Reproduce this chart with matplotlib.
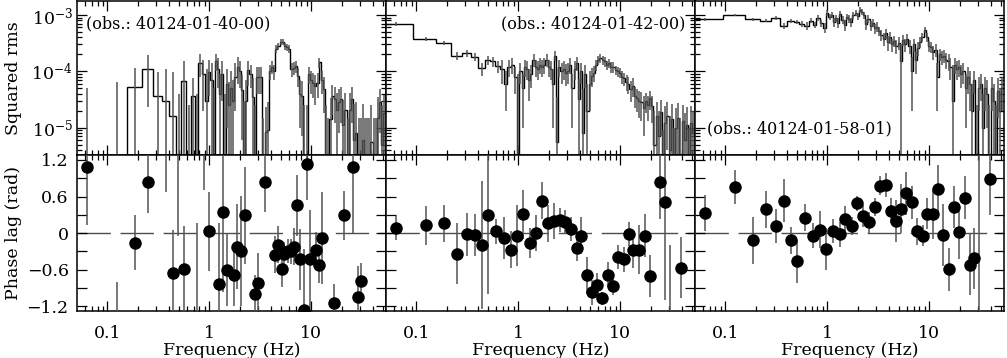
import numpy as np
import matplotlib.pyplot as plt
from matplotlib.ticker import MultipleLocator, FuncFormatter, NullFormatter, LogLocator

plt.rcParams['font.family'] = 'DejaVu Serif'
plt.rcParams['mathtext.fontset'] = 'dejavuserif'
plt.rcParams['font.size'] = 12.5

# POWER SPECTRA (shared frequency grid, Hz; power in units of 1e-5)
freq = [0.0625, 0.125, 0.1875, 0.25, 0.3125, 0.375, 0.4375, 0.5,
        0.5625, 0.625, 0.6875, 0.75, 0.8125, 0.875, 0.9375, 1.0,
        1.05, 1.10, 1.16, 1.22, 1.28, 1.34, 1.41, 1.48, 1.55, 1.63, 1.71, 1.80, 1.89, 1.98,
        2.08, 2.18, 2.29, 2.41, 2.53, 2.65, 2.79, 2.93,
        3.07, 3.23, 3.39, 3.56, 3.73, 3.92,
        4.12, 4.32, 4.54, 4.76,
        5.00, 5.25, 5.52, 5.79,
        6.08, 6.39, 6.70,
        7.04, 7.39, 7.76,
        8.15, 8.56, 8.99,
        9.43, 9.91,
        10.4, 10.9, 11.5, 12.0, 12.6, 13.3, 13.9, 14.6, 15.4, 16.1, 16.9, 17.8, 18.7, 19.6,
        20.6, 21.6, 22.7, 23.8, 25.0, 26.3, 27.6, 29.0,
        30.4, 31.9, 33.5, 35.2, 37.0, 38.8,
        40.8, 42.8, 45.0, 47.2, 49.6, 52.0]

pow1 = [-1, -1, 5.3, 10.8, 3.7, 3.0, 1.6, -2, 6.8, -0.5, 3.7, -1, 14, 9, 3, 9.6,
        7, -1, 15, 11, 4, 9, -1, 6, 2.5, 5, 3, 8, 12, 10,
        4.6, -1, 3, 10.5, 9, 3.5, -0.5, 8,
        8, 8, -0.5, 0.84, 0.9, 10,
        12, 10, 25, 28,
        33, 33, 28, 27,
        25, 10.8, 11.5,
        12.3, 8.3, 4,
        3.7, -0.5, -0.5,
        9, 7,
        6.3, 5.5, 6.3, 14.5, 7, 4.8, -0.5, -0.5, 1.4, 3.7, 3.2, 2.1, 2.8, 3.2,
        1.1, 2.1, -0.5, 2.1, 3.2, 0.6, 0.8, -0.5,
        -0.5, 0.6, -0.5, -0.5, -0.5, 0.55,
        -0.5, -0.5, 1.5, 2.8, 0.5, 1.8]
err1 = [6, 7.5, 6, 8.5, 6, 8, 8, 6, 8.5, 3, 4, 5, 6, 7, 8, 6,
        7, 6, 5, 6, 5, 6, 5, 5, 4, 5, 4, 6, 6, 5,
        4, 4, 4, 5, 4, 4, 3, 4,
        4, 4, 2, 1.5, 2, 3,
        3, 3, 4, 4,
        4, 4, 4, 4,
        4, 3, 3,
        3, 3, 3,
        3, 3, 3,
        3, 3,
        3, 3, 3, 3, 3, 3, 3, 2, 2, 2, 2, 2, 2, 2,
        2, 2, 2, 2, 2, 2, 2, 2,
        2, 2, 2, 2, 2, 2,
        2, 2, 2, 2, 2, 2]

pow2 = [69, 37, 32, 19, 21, 18, 11.3, 16, 15, 12.3, 11, 6, 12, 13, 8, -1,
        10, 5, 12, 11, 7, 9, 16, 12, 11, 13, 12, 13, 16, 12,
        11, 6, 19, 0.55, 12, 10, 11, 9.5,
        10, 13, 5, 11, 14, 3.2,
        10, 0.8, 9, 2,
        6, 8.3, 9.5, 13,
        16, 17, 16,
        15, 13, 14,
        12, 12, 10.5,
        10, 9.5,
        8, 7.5, 6.5, 6, 4.8, 5.5, 3.7, 3.4, 3.0, 2.8, 2.2, 3.0, 2.5, 3.3,
        2.4, 0.5, 1.6, 0.7, 1.9, -0.3, 1.2, 1.6,
        0.4, 1.4, -0.2, 1.0, 1.5, 0.3,
        1.3, 0.6, 1.1, -0.2, 1.2, 0.8]
err2 = [6, 3, 3, 3, 3, 3, 3, 3, 3, 3, 5, 4, 4, 4, 4, 10,
        4, 4, 4, 4, 4, 4, 4, 4, 4, 4, 4, 4, 4, 4,
        4, 5, 4, 3, 4, 4, 4, 4,
        4, 4, 4, 4, 4, 4,
        4, 4, 4, 4,
        4, 3, 3, 3,
        3, 3, 3,
        3, 2.5, 2.5,
        2.5, 2.5, 2,
        2, 2,
        2, 2, 2, 2, 2, 2, 1.5, 1.5, 1.5, 1.5, 1.5, 1.2, 1.2, 1.2,
        1.2, 1.5, 1.3, 1.3, 1.2, 1.2, 1.2, 1.2,
        1.2, 1.2, 1.2, 1.2, 1.2, 1.2,
        1.2, 1.2, 1.2, 1.2, 1.2, 1.2]

pow3 = [84, 100, 84, 79, 88, 65, 79, 76, 70, 64, 79, 67, 88, 72, 59, 110,
        92, 100, 76, 88, 73, 105, 82, 67, 92, 85, 75, 100, 110, 95,
        125, 115, 100, 70, 85, 65, 72, 58,
        62, 52, 45, 38, 47, 33,
        40, 30, 35, 28,
        32, 15, 36, 30,
        38, 28, 10,
        30, 16, 26,
        33, 40, 55,
        40, 28,
        27, 22, 24, 8, 20, 18, 19, 16, 15, 12, 3, 13, 11, 12,
        9, 10, 5, 8, 6, 2, 7, -0.5,
        5, 6, 1, 5, 4, -0.5,
        5, 3, -0.5, 4.5, 2, 5]
err3 = [5, 6, 5, 5, 6, 8, 6, 6, 8, 10, 8, 8, 10, 10, 12, 15,
        12, 12, 14, 12, 14, 12, 14, 14, 12, 14, 15, 15, 15, 15,
        15, 15, 15, 15, 14, 12, 12, 12,
        12, 10, 10, 10, 10, 10,
        10, 8, 8, 8,
        8, 16, 8, 8,
        8, 8, 8,
        8, 7, 7,
        7, 7, 7,
        7, 6,
        6, 6, 6, 6, 5, 5, 5, 5, 5, 5, 10, 4, 4, 4,
        4, 4, 4, 4, 4, 4, 3, 3,
        3, 3, 3, 3, 3, 3,
        3, 3, 3, 3, 3, 3]

# PHASE LAGS (Hz, rad)
lag1_f = [0.0625, 0.1875, 0.25, 0.44, 0.565, 1.0, 1.24, 1.35, 1.49, 1.75, 1.87, 2.04,
          2.22, 2.79, 3.0, 3.54, 4.4, 4.7, 5.1, 5.4, 5.9, 6.3, 6.8, 7.3, 7.8, 8.5,
          9.0, 9.6, 11.1, 11.8, 12.7, 16.7, 20.7, 25.6, 28.7, 31.0,
          0.123, 0.378, 0.494, 0.76, 0.886]
lag1_v = [1.08, -0.16, 0.83, -0.65, -0.58, 0.03, -0.83, 0.34, -0.6, -0.69, -0.22, -0.29,
          0.29, -0.99, -0.82, 0.84, -0.35, -0.19, -0.58, -0.34, -0.29, -0.30, -0.22, 0.46, -0.43, -1.26,
          1.14, -0.42, -0.28, -0.52, -0.08, -1.14, 0.29, 1.08, -1.04, -0.79,
          -1.8, 1.8, 1.6, -1.8, 1.8]
lag1_e = [0.95, 0.45, 0.5, 0.7, 0.7, 0.65, 1.0, 1.3, 0.6, 0.5, 0.7, 0.9,
          0.8, 0.3, 0.5, 0.5, 0.3, 0.3, 0.3, 0.2, 0.2, 0.2, 0.3, 0.5, 0.5, 1.0,
          0.6, 0.8, 0.3, 0.3, 0.75, 0.3, 0.4, 1.1, 0.5, 0.3,
          1.0, 1.13, 1.65, 1.97, 1.1]

lag2_f = [0.0625, 0.125, 0.1875, 0.25, 0.3125, 0.375, 0.4375, 0.5, 0.6, 0.72, 0.84, 0.97,
          1.12, 1.3, 1.49, 1.71, 1.96, 2.22, 2.55, 2.88, 3.27, 3.72, 4.14, 4.7, 5.27, 5.93,
          6.67, 7.52, 8.54, 9.5, 10.8, 12.1, 13.4, 15.4, 17.5, 19.5, 24.4, 27.4, 39.3, 30.5]
lag2_v = [0.08, 0.13, 0.16, -0.34, -0.02, -0.03, -0.2, 0.30, 0.03, -0.08, -0.27, -0.04,
          0.31, -0.16, 0.0, 0.53, 0.16, 0.2, 0.22, 0.18, 0.07, -0.25, -0.04, -0.69, -0.97, -0.85,
          -1.07, -0.68, -0.87, -0.39, -0.43, -0.01, -0.27, -0.27, -0.04, -0.70, 0.83, 0.51, -0.57, -1.8]
lag2_e = [0.2, 0.32, 0.3, 0.5, 0.35, 0.35, 1.05, 1.3, 0.2, 0.35, 0.3, 0.5,
          0.4, 0.25, 0.3, 0.3, 0.3, 0.3, 0.2, 0.2, 0.2, 0.2, 0.3, 0.3, 0.2, 0.2,
          0.1, 0.2, 0.15, 0.2, 0.2, 0.2, 0.3, 0.4, 0.35, 0.35, 0.6, 1.6, 0.5, 1.6]

lag3_f = [0.0625, 0.125, 0.1875, 0.25, 0.3125, 0.375, 0.4375, 0.5, 0.6, 0.72, 0.85, 0.96,
          1.13, 1.32, 1.49, 1.73, 1.97, 2.24, 2.55, 2.91, 3.3, 3.77, 4.18, 4.75, 5.3, 5.95,
          6.7, 7.6, 8.6, 9.55, 10.9, 12.1, 13.7, 15.4, 17.5, 19.6, 22.2, 24.8, 27.6, 39.2, 30.5]
lag3_v = [0.33, 0.75, -0.12, 0.39, 0.12, 0.53, -0.12, -0.46, 0.25, -0.04, 0.06, -0.26,
          0.04, -0.02, 0.24, 0.12, 0.49, 0.28, 0.18, 0.43, 0.78, 0.79, 0.37, 0.2, 0.4, 0.65,
          0.51, 0.03, -0.04, 0.32, 0.31, 0.72, -0.03, -0.59, 0.43, 0.02, 0.58, -0.52, -0.41, 0.89, 1.8]
lag3_e = [0.3, 0.28, 0.38, 0.3, 0.28, 0.35, 0.22, 0.35, 0.22, 0.2, 0.3, 0.35,
          0.2, 0.2, 0.2, 0.15, 0.12, 0.18, 0.17, 0.15, 0.15, 0.2, 0.2, 0.35, 0.4, 0.35,
          0.27, 0.22, 0.17, 0.25, 0.4, 0.4, 0.5, 0.35, 0.35, 0.45, 0.35, 0.5, 0.5, 0.6, 3.5]

obs_labels = ['(obs.: 40124-01-40-00)', '(obs.: 40124-01-42-00)', '(obs.: 40124-01-58-01)']

powers = [pow1, pow2, pow3]
errors = [err1, err2, err3]
lags = [(lag1_f, lag1_v, lag1_e), (lag2_f, lag2_v, lag2_e), (lag3_f, lag3_v, lag3_e)]

# LAYOUT
lefts = [0.0765, 0.3833, 0.6902]
width = 0.3069
top_box = (0.567, 0.4302)
bot_box = (0.1321, 0.4349)
xlim = (0.0504, 54.0)
err_col = '0.33'


def bin_edges(f):
    f = np.asarray(f)
    mid = 0.5 * (f[1:] + f[:-1])
    return np.concatenate([[2 * f[0] - mid[0]], mid, [2 * f[-1] - mid[-1]]])


def style(ax):
    ax.tick_params(which='both', direction='in', top=True, right=True, width=0.9)
    ax.tick_params(which='major', length=7)
    ax.tick_params(which='minor', length=3.5)
    for s in ax.spines.values():
        s.set_linewidth(1.1)


def lag_fmt(v, _):
    k = v / 0.6
    if abs(k - round(k)) > 1e-6:
        return ''
    if abs(v) < 1e-9:
        return '0'
    return ('%.1f' % v).replace('-', '\u2212')


fig = plt.figure(figsize=(10.07, 3.58), dpi=100)
edges = bin_edges(freq)

for i in range(3):
    # power spectrum
    ax = fig.add_axes([lefts[i], top_box[0], width, top_box[1]])
    p = np.array(powers[i]) * 1e-5
    e = np.array(errors[i]) * 1e-5
    ax.set_xscale('log')
    ax.set_yscale('log', nonpositive='clip')
    ax.errorbar(freq, p, yerr=e, fmt='none', ecolor=err_col, elinewidth=1.1, capsize=0)
    ax.stairs(p, edges, color='k', lw=1.0, baseline=None)
    ax.set_xlim(*xlim)
    ax.set_ylim(3.27e-6, 1.77e-3)
    ax.yaxis.set_major_locator(LogLocator(base=10))
    ax.yaxis.set_minor_locator(LogLocator(base=10, subs=np.arange(2, 10)))
    ax.yaxis.set_minor_formatter(NullFormatter())
    ax.xaxis.set_minor_formatter(NullFormatter())
    style(ax)
    ax.tick_params(labelbottom=False, pad=3)
    if i == 0:
        ax.set_ylabel('Squared rms')
        ax.yaxis.set_label_coords(-0.178, 0.5)
    else:
        ax.tick_params(labelleft=False)
    if i == 0:
        ax.text(0.029, 0.85, obs_labels[i], transform=ax.transAxes, fontsize=11.5,
                ha='left', va='center')
    elif i == 1:
        ax.text(0.968, 0.85, obs_labels[i], transform=ax.transAxes, fontsize=11.5,
                ha='right', va='center')
    else:
        ax.text(0.039, 0.169, obs_labels[i], transform=ax.transAxes, fontsize=11.5,
                ha='left', va='center')

    # phase lag
    bx = fig.add_axes([lefts[i], bot_box[0], width, bot_box[1]])
    lf, lv, le = lags[i]
    bx.set_xscale('log')
    bx.axhline(0, color='0.3', lw=1.0, dashes=(24, 7), zorder=1)
    bx.errorbar(lf, lv, yerr=le, fmt='o', color='k', ms=8, ecolor=err_col,
                elinewidth=1.1, capsize=0, zorder=3)
    bx.set_xlim(*xlim)
    bx.set_ylim(-1.27, 1.28)
    bx.yaxis.set_major_locator(MultipleLocator(0.3))
    bx.yaxis.set_major_formatter(FuncFormatter(lag_fmt))
    bx.xaxis.set_major_formatter(FuncFormatter(lambda v, _: '%g' % v))
    bx.xaxis.set_minor_formatter(NullFormatter())
    style(bx)
    bx.tick_params(axis='x', pad=10)
    bx.tick_params(axis='y', pad=6)
    bx.set_xlabel('Frequency (Hz)', labelpad=0)
    if i == 0:
        bx.set_ylabel('Phase lag (rad)')
        bx.yaxis.set_label_coords(-0.178, 0.5)
    else:
        bx.tick_params(labelleft=False)

fig.savefig('out.png', dpi=100)
